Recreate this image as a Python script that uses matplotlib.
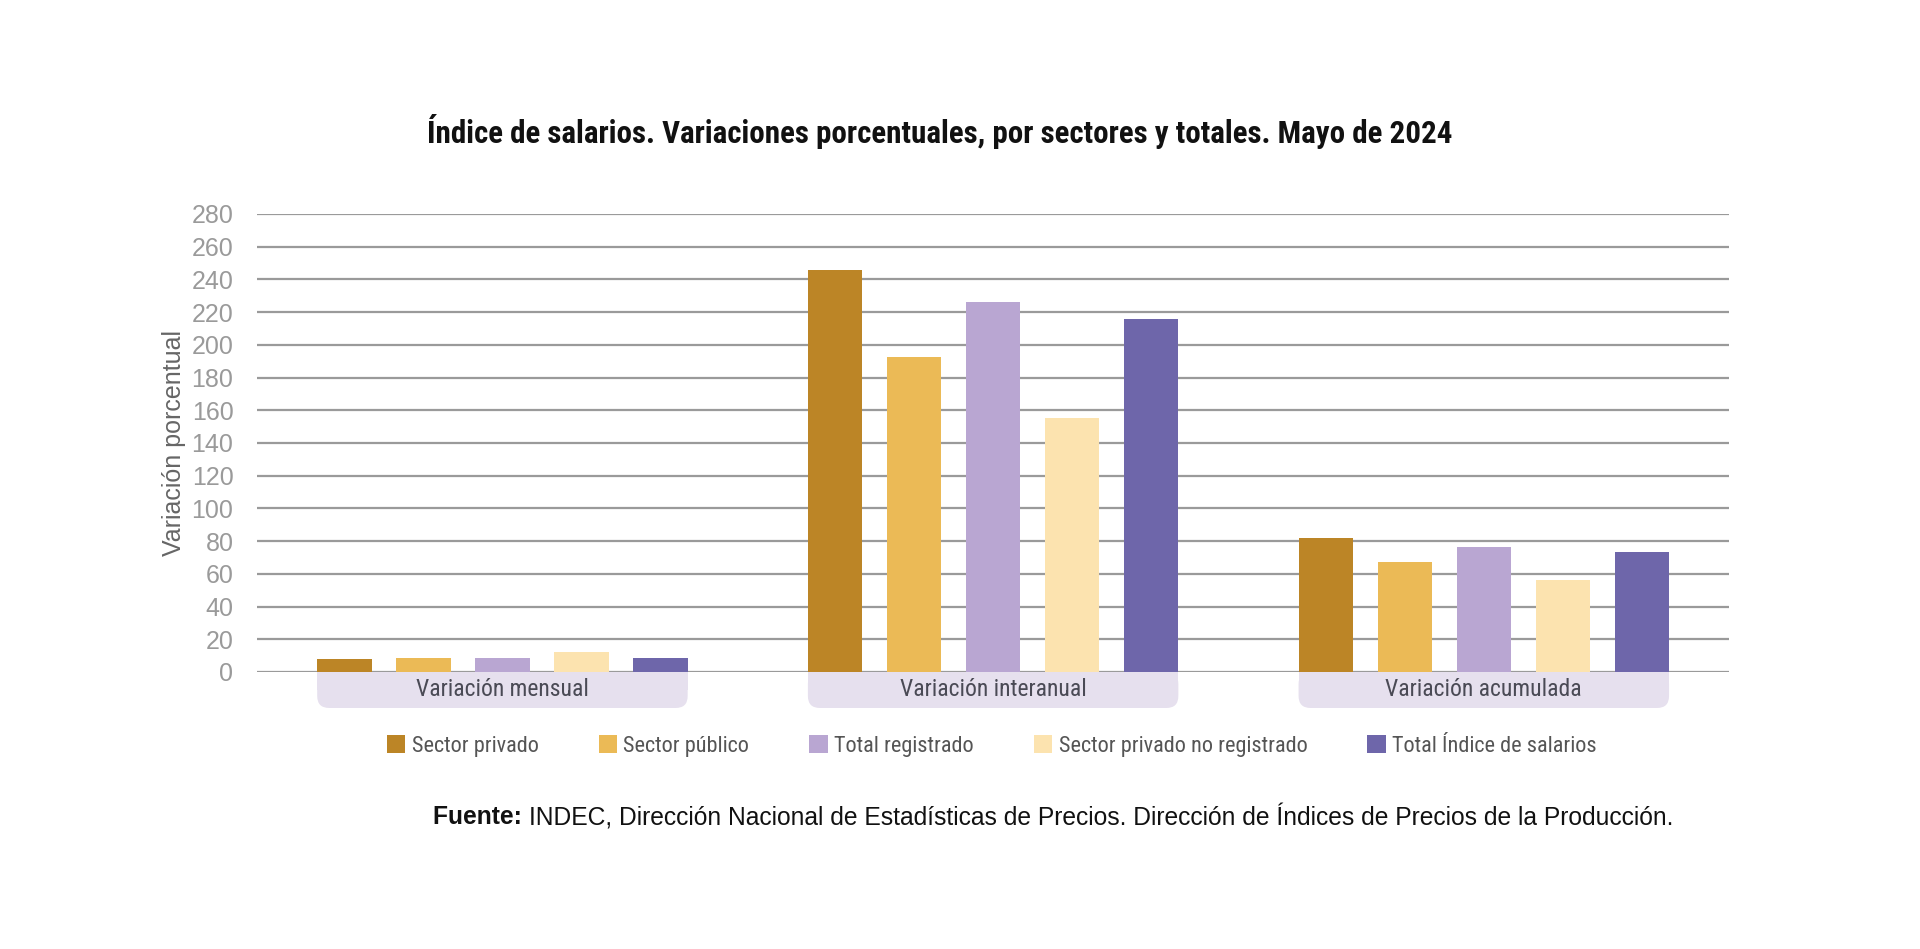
import matplotlib
matplotlib.use("Agg")
import numpy as np
import matplotlib.pyplot as plt
from matplotlib.patches import FancyBboxPatch, Rectangle, Patch

groups = ["Variación mensual", "Variación interanual", "Variación acumulada"]
series = ["Sector privado", "Sector público", "Total registrado",
          "Sector privado no registrado", "Total Índice de salarios"]
colors = ["#BC8526", "#EBBA56", "#B9A6D2", "#FCE3AF", "#6E66AA"]

# one value per group: mensual, interanual, acumulada
sector_privado = [7.7, 245.8, 81.8]
sector_publico = [8.5, 192.5, 67.2]
total_registrado = [8.3, 226.1, 76.3]
privado_no_registrado = [12.0, 155.3, 56.0]
total_indice = [8.4, 215.7, 73.5]
values = [sector_privado, sector_publico, total_registrado,
          privado_no_registrado, total_indice]

yticks = list(range(0, 281, 20))

narrow = ["Roboto Condensed", "Liberation Sans Narrow", "DejaVu Sans"]
regular = ["Liberation Sans", "DejaVu Sans"]

fig = plt.figure(figsize=(19.2, 9.49), dpi=100)
ax = fig.add_axes([0.1339, 0.2919, 0.7667, 0.4826])

x = np.arange(len(groups))
pitch = 0.161
width = 0.111
for i, (vals, col) in enumerate(zip(values, colors)):
    ax.bar(x + (i - 2) * pitch, vals, width=width, color=col, zorder=3)

ax.set_xlim(-0.5, 2.5)
ax.set_ylim(0, 280)
ax.set_yticks(yticks)
ax.set_xticks([])
for s in ax.spines.values():
    s.set_visible(False)
ax.grid(axis="y", color="#9a9a9a", linewidth=1.6, zorder=1)
ax.tick_params(axis="y", length=0, pad=17, labelsize=18, labelcolor="#9a9a9a")
for lab in ax.get_yticklabels():
    lab.set_family(regular)
ax.set_ylabel("Variación porcentual", fontsize=18, color="#666666",
              family=regular, labelpad=4)

# group label boxes under the baseline
left = x - 2 * pitch - width / 2
right = x + 2 * pitch + width / 2
px_x = 1.0 / 491.0
px_y = 280.0 / 458.0
box_h = 36 * px_y
for g, l, r in zip(groups, left, right):
    rnd = FancyBboxPatch((l, -box_h), r - l, box_h,
                         boxstyle="round,pad=0,rounding_size=%f" % (12 * px_x),
                         mutation_aspect=px_y / px_x,
                         facecolor="#E6E0EE", edgecolor="none",
                         clip_on=False, zorder=2)
    ax.add_patch(rnd)
    ax.add_patch(Rectangle((l, -box_h / 2), r - l, box_h / 2,
                           facecolor="#E6E0EE", edgecolor="none",
                           clip_on=False, zorder=2))
    ax.text((l + r) / 2, -box_h / 2, g, ha="center", va="center",
            fontsize=17, color="#4a4a55", family=narrow, zorder=4)

handles = [Patch(facecolor=c, edgecolor="none") for c in colors]
leg = fig.legend(handles, series, loc="center", bbox_to_anchor=(0.5166, 0.214),
                 ncol=5, frameon=False, handlelength=0.82,
                 handleheight=0.82, handletextpad=0.3, columnspacing=2.7,
                 prop={"family": narrow, "size": 16})
for t in leg.get_texts():
    t.set_color("#555555")

fig.text(0.4895, 0.861,
         "Índice de salarios. Variaciones porcentuales, por sectores y totales. Mayo de 2024",
         ha="center", va="center", fontsize=22.3, fontweight="bold",
         family=narrow, color="#111111")

src_y = 0.139
t1 = fig.text(0.2255, src_y, "Fuente: ", ha="left", va="center", fontsize=17.7,
              fontweight="bold", family=regular, color="#111111")
fig.canvas.draw()
bb = t1.get_window_extent(renderer=fig.canvas.get_renderer())
fig.text(bb.x1 / fig.bbox.width, src_y,
         "INDEC, Dirección Nacional de Estadísticas de Precios. Dirección de Índices de Precios de la Producción.",
         ha="left", va="center", fontsize=17.7, family=regular, color="#111111")

fig.savefig("out.png", dpi=100, facecolor="white")
